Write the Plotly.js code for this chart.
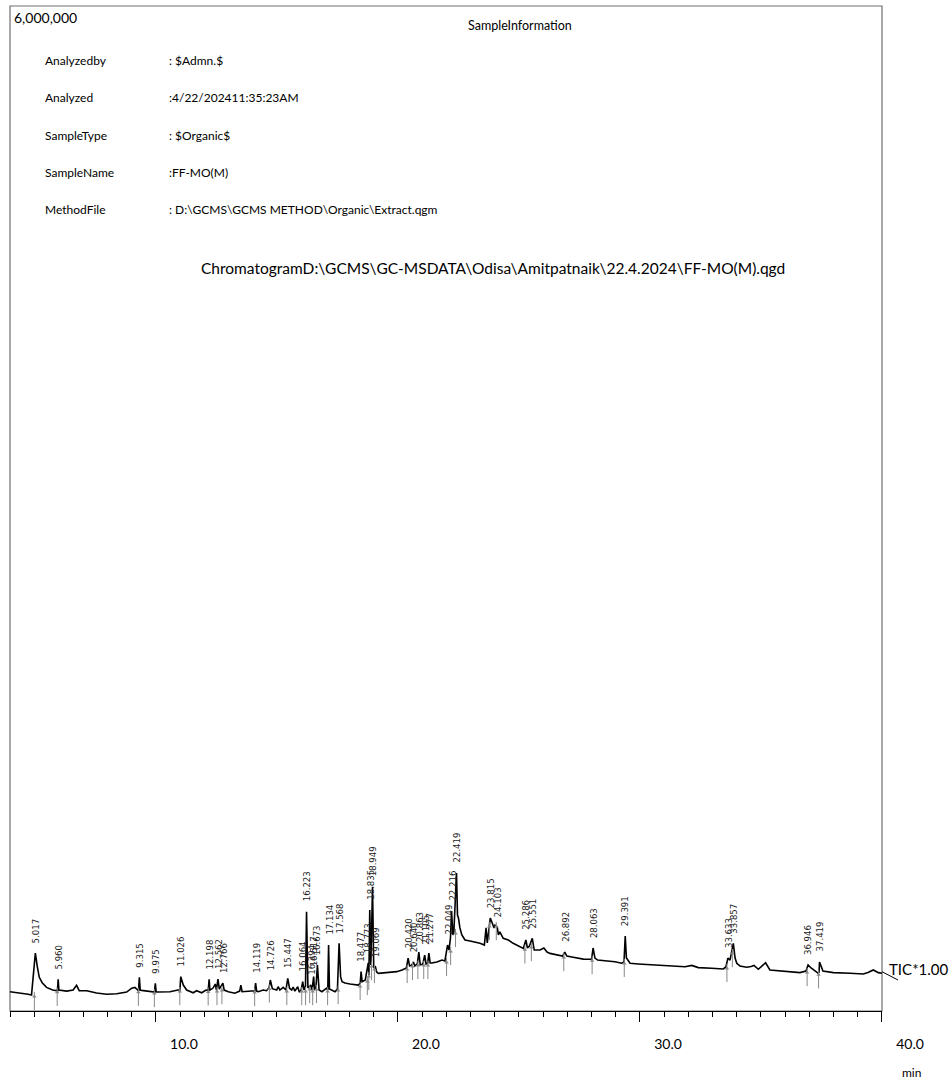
<!DOCTYPE html>
<html>
<head>
<meta charset="utf-8">
<script src="https://cdn.plot.ly/plotly-3.0.1.min.js"></script>
<style>html,body{margin:0;padding:0;background:#fff;}#chart{width:951px;height:1083px;}</style>
</head>
<body>
<div id="chart"></div>
<script>
// ---- data (retention time in min, TIC intensity) ----
const retTime = [3.97,4.38,4.72,4.86,5.017,5.10,5.18,5.30,5.48,5.73,5.93,5.960,5.99,6.31,6.58,6.72,6.83,7.14,7.55,7.96,8.38,8.79,9.00,9.13,9.28,9.315,9.35,9.41,9.62,9.82,9.94,9.975,10.01,10.07,10.17,10.58,10.91,10.99,11.026,11.13,11.27,11.54,11.68,11.89,12.07,12.16,12.198,12.23,12.36,12.45,12.50,12.562,12.62,12.766,12.82,12.99,13.26,13.46,13.51,13.56,13.95,14.08,14.119,14.16,14.23,14.43,14.57,14.68,14.726,14.81,14.99,15.05,15.12,15.26,15.37,15.447,15.52,15.61,15.67,15.74,15.86,15.92,16.00,16.064,16.12,16.18,16.223,16.28,16.394,16.45,16.517,16.55,16.61,16.673,16.74,16.86,17.05,17.10,17.134,17.17,17.40,17.50,17.568,17.63,17.69,17.81,18.02,18.22,18.36,18.44,18.477,18.52,18.65,18.773,18.80,18.835,18.88,18.949,19.00,19.069,19.12,19.19,19.53,19.95,20.17,20.35,20.420,20.48,20.58,20.640,20.70,20.80,20.863,20.92,21.03,21.105,21.16,21.23,21.277,21.33,21.40,21.61,21.82,21.94,22.049,22.11,22.17,22.216,22.27,22.31,22.419,22.46,22.50,22.56,22.64,22.77,22.98,23.18,23.39,23.57,23.64,23.69,23.76,23.815,23.88,23.97,24.01,24.103,24.15,24.21,24.35,24.56,24.76,24.97,25.18,25.286,25.35,25.43,25.551,25.63,25.87,26.03,26.16,26.28,26.56,26.80,26.892,26.98,27.24,27.66,28.00,28.063,28.14,28.25,28.55,28.97,29.24,29.34,29.391,29.44,29.50,29.59,29.93,30.48,31.17,31.86,32.14,32.41,32.96,33.44,33.55,33.633,33.72,33.78,33.857,33.93,34.00,34.13,34.41,34.59,34.71,34.89,35.04,35.19,35.37,35.92,36.61,36.86,36.946,37.07,37.37,37.40,37.419,37.56,37.99,38.68,39.23,39.42,39.64,39.85,40.00];
const intensity = [115000,109000,100000,96000,346000,264000,201000,169000,141000,125000,121000,189000,125000,119000,125000,153000,121000,121000,107000,100000,103000,113000,136000,141000,121000,201000,125000,123000,118000,113000,113000,165000,113000,113000,113000,115000,125000,125000,205000,155000,125000,109000,121000,109000,125000,123000,189000,125000,137000,161000,125000,191000,131000,167000,125000,115000,106000,119000,155000,115000,119000,119000,167000,119000,115000,125000,121000,141000,185000,133000,125000,145000,125000,141000,125000,195000,136000,125000,143000,119000,145000,113000,125000,175000,125000,149000,593000,137000,155000,125000,205000,125000,137000,275000,125000,115000,136000,125000,394000,131000,115000,131000,404000,205000,175000,167000,161000,155000,155000,167000,235000,175000,185000,287000,215000,603000,275000,742000,257000,264000,233000,225000,229000,235000,245000,257000,316000,269000,275000,293000,269000,281000,352000,275000,281000,334000,281000,287000,346000,287000,287000,293000,304000,299000,394000,364000,436000,597000,454000,472000,824000,573000,555000,496000,454000,424000,418000,412000,404000,394000,496000,406000,513000,555000,531000,496000,513000,501000,454000,472000,434000,424000,404000,388000,374000,424000,376000,388000,434000,364000,364000,376000,352000,344000,334000,328000,352000,328000,321000,310000,309000,376000,316000,304000,300000,294000,285000,293000,448000,316000,304000,285000,281000,275000,269000,264000,272000,259000,255000,251000,263000,316000,304000,352000,404000,316000,285000,269000,261000,266000,272000,249000,269000,288000,245000,237000,229000,239000,275000,257000,225000,233000,293000,239000,229000,225000,221000,230000,245000,229000,225000];

const peakTimes = [5.017,5.960,9.315,9.975,11.026,12.198,12.562,12.766,14.119,14.726,15.447,16.064,16.223,16.394,16.517,16.673,17.134,17.568,18.477,18.773,18.835,18.949,19.069,20.420,20.640,20.863,21.105,21.277,22.049,22.216,22.419,23.815,24.103,25.286,25.551,26.892,28.063,29.391,33.633,33.857,36.946,37.419];
const peakLabels = ["5.017","5.960","9.315","9.975","11.026","12.198","12.562","12.766","14.119","14.726","15.447","16.064","16.223","16.394","16.517","16.673","17.134","17.568","18.477","18.773","18.835","18.949","19.069","20.420","20.640","20.863","21.105","21.277","22.049","22.216","22.419","23.815","24.103","25.286","25.551","26.892","28.063","29.391","33.633","33.857","36.946","37.419"];

const infoLabels = ["Analyzedby","Analyzed","SampleType","SampleName","MethodFile"];
const infoValues = [": $Admn.$",":4/22/202411:35:23AM",": $Organic$",":FF-MO(M)",": D:\\GCMS\\GCMS METHOD\\Organic\\Extract.qgm"];
const headerText = "SampleInformation";
const chromTitle = "ChromatogramD:\\GCMS\\GC-MSDATA\\Odisa\\Amitpatnaik\\22.4.2024\\FF-MO(M).qgd";
const yTopLabel = "6,000,000";
const traceLabel = "TIC*1.00";
const xUnit = "min";

// ---- helpers (pixel -> paper) ----
const PL = 10, PR = 882, PT = 6, PB = 1011;
const px = x => (x - PL) / (PR - PL);
const py = y => (PB - y) / (PB - PT);
const FONT = "Lato, 'Open Sans', sans-serif";
const NARROW = "'DejaVu Sans Condensed', 'Liberation Sans Narrow', sans-serif";

function valueAt(t) {
  let best = 0, bd = 1e9;
  for (let i = 0; i < retTime.length; i++) {
    const d = Math.abs(retTime[i] - t);
    if (d < bd) { bd = d; best = i; }
  }
  return intensity[best];
}
function baseBefore(t) {
  let m = Infinity;
  for (let i = 0; i < retTime.length; i++) {
    if (retTime[i] < t && retTime[i] > t - 0.12) m = Math.min(m, intensity[i]);
  }
  if (m === Infinity) m = valueAt(t - 0.1);
  return m;
}

const ann = [];
ann.push({xref:'paper', yref:'paper', x:px(12), y:py(17), xanchor:'left', yanchor:'middle', text:yTopLabel, showarrow:false, font:{family:FONT, size:14, color:'#000'}});
ann.push({xref:'paper', yref:'paper', x:px(520), y:py(25), xanchor:'center', yanchor:'middle', text:headerText, showarrow:false, font:{family:FONT, size:12.5, color:'#000'}});
const rows = [61, 97, 135, 172, 209];
infoLabels.forEach((l, i) => {
  ann.push({xref:'paper', yref:'paper', x:px(43), y:py(rows[i]), xanchor:'left', yanchor:'middle', text:l, showarrow:false, font:{family:FONT, size:12, color:'#000'}});
  ann.push({xref:'paper', yref:'paper', x:px(167), y:py(rows[i]), xanchor:'left', yanchor:'middle', text:infoValues[i], showarrow:false, font:{family:FONT, size:12, color:'#000'}});
});
ann.push({xref:'paper', yref:'paper', x:px(493), y:py(268), xanchor:'center', yanchor:'middle', text:chromTitle, showarrow:false, font:{family:FONT, size:15.5, color:'#000'}});
ann.push({xref:'paper', yref:'paper', x:px(887), y:py(969), xanchor:'left', yanchor:'middle', text:traceLabel, showarrow:false, font:{family:FONT, size:15, color:'#000'}});
ann.push({xref:'paper', yref:'paper', x:px(911), y:py(1072), xanchor:'center', yanchor:'middle', text:xUnit, showarrow:false, font:{family:FONT, size:12, color:'#000'}});

peakTimes.forEach((t, i) => {
  ann.push({x:t, y:valueAt(t), xref:'x', yref:'y', text:peakLabels[i], textangle:-90, showarrow:false,
    xanchor:'center', yanchor:'bottom', yshift:8, font:{family:NARROW, size:9.5, color:'#222'}});
});

const arrowX = peakTimes.map(t => t - 0.04);
const arrowBase = peakTimes.map(t => baseBefore(t));

const traces = [
  {x: retTime, y: intensity, type:'scatter', mode:'lines', line:{color:'#000', width:1.6}, hoverinfo:'skip', cliponaxis:false},
  {x: arrowX, y: arrowBase.map(v => v - 36000), type:'scatter', mode:'markers', marker:{symbol:'line-ns-open', size:13, color:'#888', line:{color:'#888', width:1}}, hoverinfo:'skip'},
  {x: arrowX, y: arrowBase.map(v => v - 9000), type:'scatter', mode:'markers', marker:{symbol:'triangle-up', size:4, color:'#888'}, hoverinfo:'skip'}
];

const layout = {
  width: 951, height: 1083,
  margin: {l: PL, r: 951 - PR, t: PT, b: 1083 - PB, pad: 0},
  paper_bgcolor: '#fff', plot_bgcolor: '#fff',
  showlegend: false,
  xaxis: {
    range: [3.97, 40.0005], tickmode: 'linear', tick0: 0, dtick: 10, tickformat: '.1f',
    ticks: 'outside', ticklen: 10, tickwidth: 1, tickcolor: '#000',
    ticklabelshift: 28, ticklabelstandoff: 10,
    tickfont: {family: FONT, size: 14, color: '#000'},
    showline: true, linecolor: '#000', linewidth: 1,
    showgrid: false, zeroline: false, fixedrange: true,
    minor: {dtick: 1, tick0: 0, ticks: 'outside', ticklen: 5, tickwidth: 1, tickcolor: '#000', showgrid: false}
  },
  yaxis: {range: [0, 6000000], visible: false, fixedrange: true},
  annotations: ann,
  shapes: [
    {type:'rect', xref:'paper', yref:'paper', x0:0, x1:1, y0:0, y1:1, line:{color:'#6e6e6e', width:1.2}, layer:'below'},
    {type:'line', xref:'paper', yref:'paper', x0:1, y0:py(971.7), x1:px(898), y1:py(980), line:{color:'#000', width:1}}
  ]
};

Plotly.newPlot('chart', traces, layout, {displayModeBar: false, staticPlot: true});
</script>
</body>
</html>
